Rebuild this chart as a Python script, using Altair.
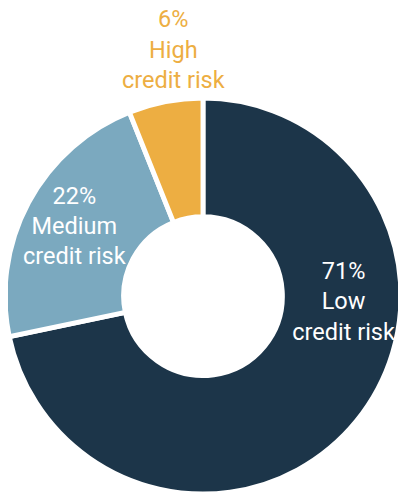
import altair as alt
import pandas as pd

categories = ["Low", "Medium", "High"]
values = [71, 22, 6]
line1 = ["Low", "Medium", "High"]
line2 = ["credit risk", "credit risk", "credit risk"]
colors = ["#1c3549", "#7ba9bf", "#edae42"]

df = pd.DataFrame({
    "category": categories,
    "value": values,
    "order": list(range(len(categories))),
    "label": [f"{v}%\n{a}\n{b}" for v, a, b in zip(values, line1, line2)],
})

total = sum(values)
theta_scale = alt.Scale(domain=[0, total], range=[0, 6.283185307179586])
color_scale = alt.Scale(domain=categories, range=colors)

CX, CY = 199, 289

base = alt.Chart(df).transform_window(
    cum="sum(value)", sort=[alt.SortField("order")]
).transform_calculate(
    start="datum.cum - datum.value",
    mid="datum.cum - datum.value / 2",
)

arcs = base.mark_arc(outerRadius=202, innerRadius=81, stroke="white", strokeWidth=5).encode(
    theta=alt.Theta("start:Q", scale=theta_scale),
    theta2="cum:Q",
    color=alt.Color("category:N", scale=color_scale, legend=None),
    x=alt.value(CX),
    y=alt.value(CY),
)

label_cfg = {
    "Low": dict(radius=150, dx=27, dy=-119, color="white"),
    "Medium": dict(radius=149, dx=0, dy=-31, color="white"),
    "High": dict(radius=250, dx=17, dy=-36, color="#edae42"),
}

layers = [arcs]
for cat in categories:
    cfg = label_cfg[cat]
    layers.append(
        base.transform_filter(alt.datum.category == cat).mark_text(
            radius=cfg["radius"], dx=cfg["dx"], dy=cfg["dy"], color=cfg["color"],
            font="Roboto", fontSize=24, lineBreak="\n", lineHeight=31,
            align="center", baseline="middle",
        ).encode(
            theta=alt.Theta("mid:Q", scale=theta_scale),
            text="label:N",
            x=alt.value(CX),
            y=alt.value(CY),
        )
    )

chart = alt.layer(*layers).properties(
    width=398, height=488, autosize=alt.AutoSizeParams(type="none"), padding=0
).configure_view(stroke=None)

chart.save("out.html", embed_options={"renderer": "svg", "actions": False})
